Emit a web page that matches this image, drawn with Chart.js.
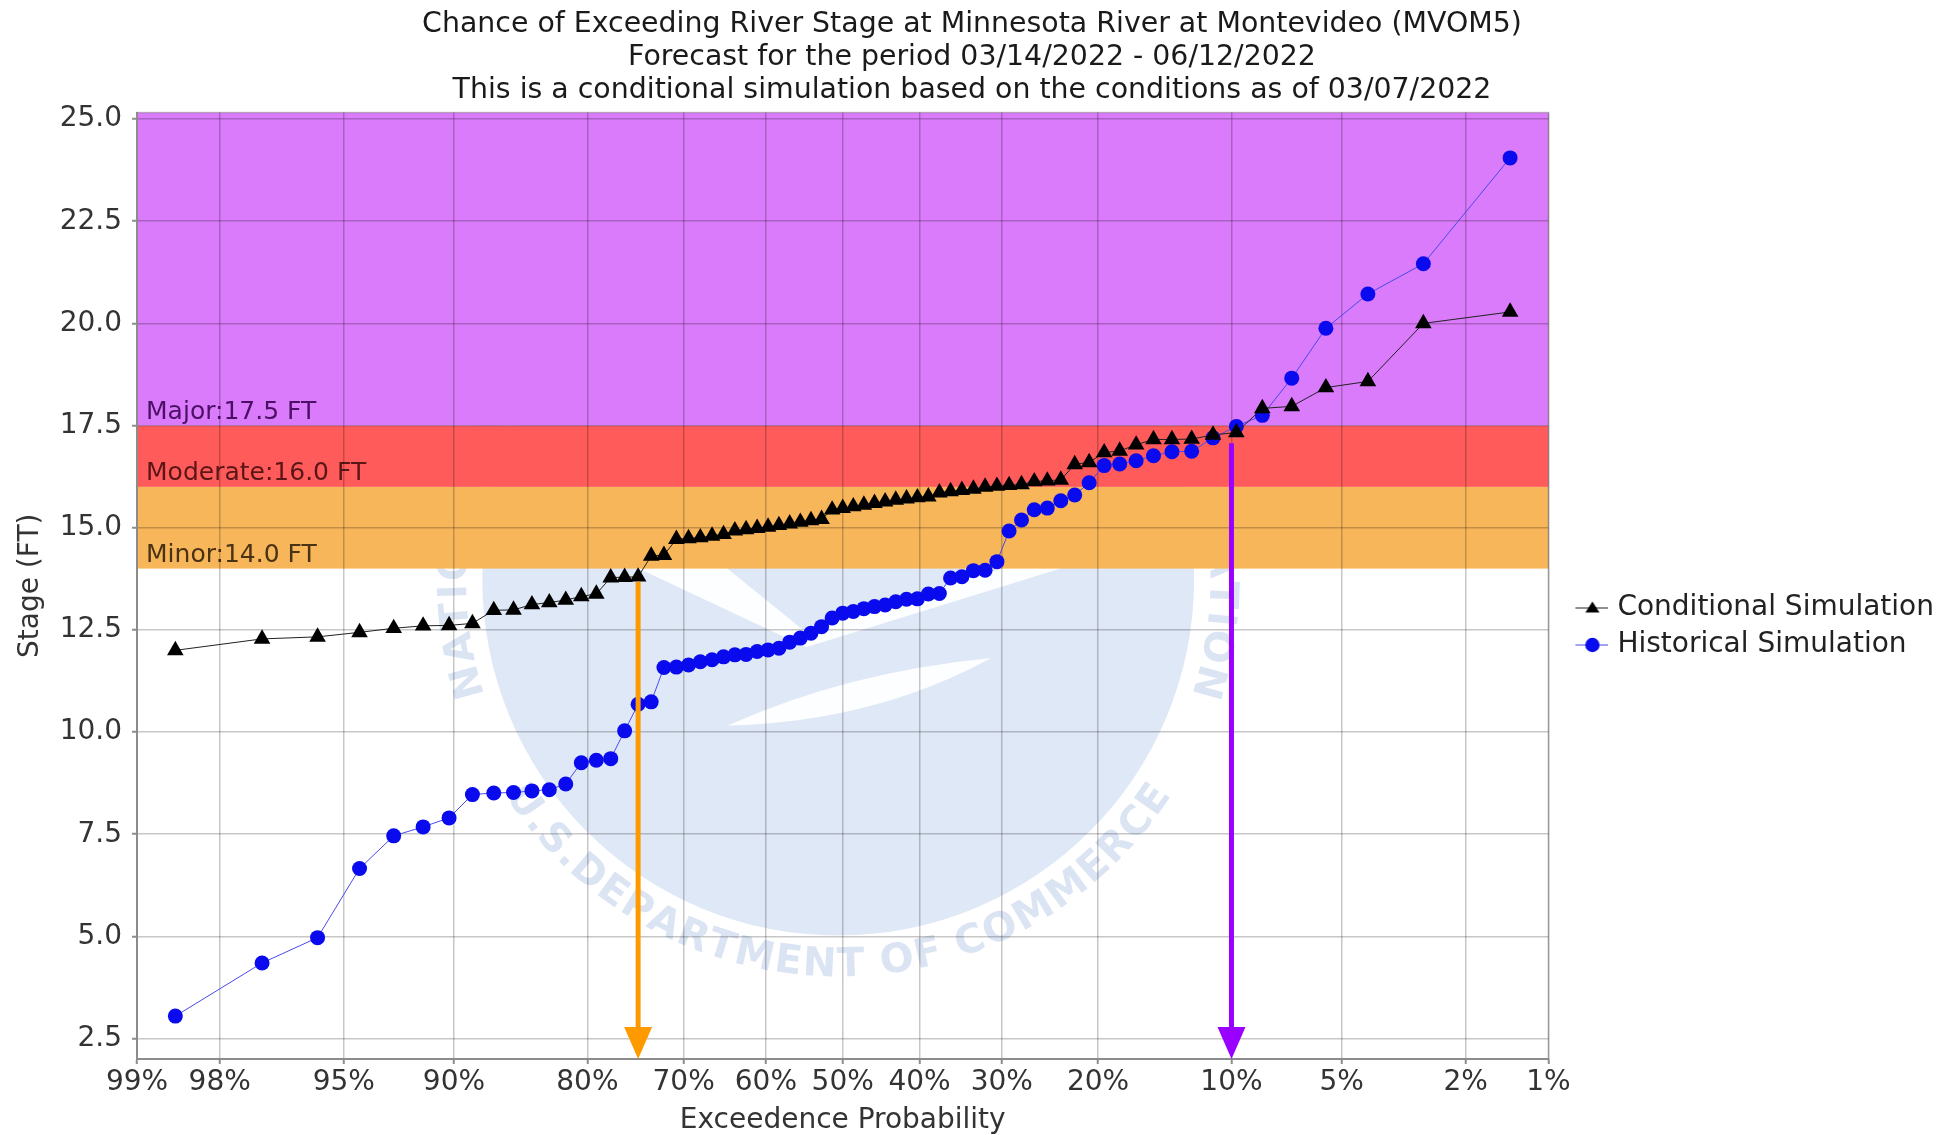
<!DOCTYPE html>
<html>
<head>
<meta charset="utf-8">
<script src="https://cdn.jsdelivr.net/npm/chart.js@4.4.1/dist/chart.umd.min.js"></script>
<style>
  html, body { margin: 0; padding: 0; background: #ffffff; }
  #wrap { width: 1955px; height: 1135px; }
</style>
</head>
<body>
<div id="wrap"><canvas id="chart" width="1955" height="1135"></canvas></div>
<script>
// ---------------- DATA ----------------
const titleLines = [
  'Chance of Exceeding River Stage at Minnesota River at Montevideo (MVOM5)',
  'Forecast for the period 03/14/2022 - 06/12/2022',
  'This is a conditional simulation based on the conditions as of 03/07/2022'
];
const seriesNames = ['Conditional Simulation', 'Historical Simulation'];

// exceedance probability (%) of each plotted point
const exceedancePct = [
  98.61, 97.22, 95.83, 94.44, 93.06, 91.67, 90.28, 88.89, 87.50, 86.11,
  84.72, 83.33, 81.94, 80.56, 79.17, 77.78, 76.39, 75.00, 73.61, 72.22,
  70.83, 69.44, 68.06, 66.67, 65.28, 63.89, 62.50, 61.11, 59.72, 58.33,
  56.94, 55.56, 54.17, 52.78, 51.39, 50.00, 48.61, 47.22, 45.83, 44.44,
  43.06, 41.67, 40.28, 38.89, 37.50, 36.11, 34.72, 33.33, 31.94, 30.56,
  29.17, 27.78, 26.39, 25.00, 23.61, 22.22, 20.83, 19.44, 18.06, 16.67,
  15.28, 13.89, 12.50, 11.11, 9.72, 8.33, 6.94, 5.56, 4.17, 2.78, 1.39
];

// stage (ft) - conditional simulation
const conditionalStage = [
  12.00, 12.28, 12.33, 12.44, 12.54, 12.60, 12.61, 12.66, 12.98, 12.99,
  13.12, 13.17, 13.23, 13.32, 13.38, 13.78, 13.79, 13.80, 14.31, 14.33,
  14.72, 14.74, 14.76, 14.80, 14.84, 14.93, 14.96, 14.99, 15.02, 15.06,
  15.10, 15.14, 15.18, 15.21, 15.44, 15.48, 15.52, 15.56, 15.60, 15.64,
  15.68, 15.71, 15.74, 15.76, 15.86, 15.89, 15.92, 15.95, 16.00, 16.02,
  16.04, 16.06, 16.13, 16.15, 16.17, 16.55, 16.60, 16.84, 16.88, 17.03,
  17.16, 17.16, 17.17, 17.27, 17.33, 17.92, 17.97, 18.43, 18.58, 20.00, 20.28
];

// stage (ft) - historical simulation
const historicalStage = [
  3.05, 4.35, 4.97, 6.66, 7.46, 7.68, 7.90, 8.47, 8.51, 8.52,
  8.56, 8.59, 8.73, 9.25, 9.31, 9.35, 10.03, 10.68, 10.74, 11.58,
  11.59, 11.64, 11.72, 11.77, 11.84, 11.89, 11.90, 11.97, 12.01, 12.05,
  12.20, 12.30, 12.42, 12.58, 12.79, 12.91, 12.95, 13.02, 13.07, 13.11,
  13.19, 13.25, 13.26, 13.38, 13.39, 13.77, 13.80, 13.95, 13.96, 14.17,
  14.92, 15.19, 15.44, 15.48, 15.66, 15.80, 16.10, 16.52, 16.56, 16.64,
  16.76, 16.86, 16.87, 17.20, 17.48, 17.75, 18.66, 19.88, 20.72, 21.46, 24.05
];

const xTickProbs  = [99, 98, 95, 90, 80, 70, 60, 50, 40, 30, 20, 10, 5, 2, 1];
const xTickLabels = ['99%', '98%', '95%', '90%', '80%', '70%', '60%', '50%', '40%', '30%', '20%', '10%', '5%', '2%', '1%'];
const yTickValues = [2.5, 5.0, 7.5, 10.0, 12.5, 15.0, 17.5, 20.0, 22.5, 25.0];

const floodNames  = ['Minor', 'Moderate', 'Major'];
const floodLevels = [14.0, 16.0, 17.5];
const floodColors = ['#f8b65a', '#ff5b5b', '#d97bfa'];
const floodTextColors = ['#4a3214', '#5a1616', '#4b1066'];

const arrowProbs     = [75, 10];
const arrowTopStages = [13.68, 17.07];
const arrowColors    = ['#ff9900', '#9900ff'];

// ---------------- HELPERS ----------------
Chart.defaults.font.family = "'DejaVu Sans', sans-serif";

function normInv(p) {
  const a = [-3.969683028665376e+01, 2.209460984245205e+02, -2.759285104469687e+02, 1.383577518672690e+02, -3.066479806614716e+01, 2.506628277459239e+00];
  const b = [-5.447609879822406e+01, 1.615858368580409e+02, -1.556989798598866e+02, 6.680131188771972e+01, -1.328068155288572e+01];
  const c = [-7.784894002430293e-03, -3.223964580411365e-01, -2.400758277161838e+00, -2.549732539343734e+00, 4.374664141464968e+00, 2.938163982698783e+00];
  const d = [7.784695709041462e-03, 3.224671290700398e-01, 2.445134137142996e+00, 3.754408661907416e+00];
  const pl = 0.02425, ph = 1 - pl;
  let q, r;
  if (p < pl) {
    q = Math.sqrt(-2 * Math.log(p));
    return (((((c[0]*q+c[1])*q+c[2])*q+c[3])*q+c[4])*q+c[5]) / ((((d[0]*q+d[1])*q+d[2])*q+d[3])*q+1);
  }
  if (p <= ph) {
    q = p - 0.5; r = q * q;
    return (((((a[0]*r+a[1])*r+a[2])*r+a[3])*r+a[4])*r+a[5])*q / (((((b[0]*r+b[1])*r+b[2])*r+b[3])*r+b[4])*r+1);
  }
  q = Math.sqrt(-2 * Math.log(1 - p));
  return -(((((c[0]*q+c[1])*q+c[2])*q+c[3])*q+c[4])*q+c[5]) / ((((d[0]*q+d[1])*q+d[2])*q+d[3])*q+1);
}
function normCdf(z) {
  const t = 1 / (1 + 0.2316419 * Math.abs(z));
  const dd = 0.3989422804014327 * Math.exp(-z * z / 2);
  const pr = dd * t * (0.319381530 + t * (-0.356563782 + t * (1.781477937 + t * (-1.821255978 + t * 1.330274429))));
  return z > 0 ? 1 - pr : pr;
}
const zOfExceed = pct => normInv(1 - pct / 100);

// Normal-probability axis (exceedance %, high on the left)
class ProbabilityScale extends Chart.Scale {
  static id = 'probability';
  static defaults = {};
  parse(raw) { return (raw === null || raw === undefined) ? null : +raw; }
  determineDataLimits() { this.min = this.options.min; this.max = this.options.max; }
  buildTicks() { return xTickProbs.map(v => ({ value: v })); }
  getLabelForValue(v) { return v.toFixed(2) + '%'; }
  configure() {
    super.configure();
    this._z0 = zOfExceed(this.min);
    this._z1 = zOfExceed(this.max);
  }
  getPixelForValue(v) {
    if (v === null || v === undefined || isNaN(v)) return NaN;
    return this.getPixelForDecimal((zOfExceed(v) - this._z0) / (this._z1 - this._z0));
  }
  getValueForPixel(px) {
    const z = this._z0 + this.getDecimalForPixel(px) * (this._z1 - this._z0);
    return 100 * (1 - normCdf(z));
  }
}
Chart.register(ProbabilityScale);

function arcText(ctx, text, cx, cy, r, centerAngle, bottom, spacing) {
  const chars = [...text];
  const sp = spacing || 0;
  const widths = chars.map(ch => ctx.measureText(ch).width + sp);
  const total = widths.reduce((s, w) => s + w, 0);
  let a = bottom ? centerAngle + total / r / 2 : centerAngle - total / r / 2;
  chars.forEach((ch, i) => {
    const half = widths[i] / 2 / r;
    a = bottom ? a - half : a + half;
    ctx.save();
    ctx.translate(cx + r * Math.cos(a), cy + r * Math.sin(a));
    ctx.rotate(bottom ? a - Math.PI / 2 : a + Math.PI / 2);
    ctx.fillText(ch, 0, 0);
    ctx.restore();
    a = bottom ? a - half : a + half;
  });
}

function drawWatermark(ctx, area) {
  const cx = area.left + area.width * 0.4968;
  const cy = area.top + area.height * 0.4936;
  const R = area.height * 0.376;
  const P = (u, v) => [cx + u * R, cy + v * R];
  ctx.save();
  ctx.beginPath(); ctx.rect(area.left, area.top, area.width, area.height); ctx.clip();
  ctx.fillStyle = '#dfe8f6';
  ctx.beginPath(); ctx.arc(cx, cy, R, 0, Math.PI * 2); ctx.fill();
  // gull
  ctx.save();
  ctx.beginPath(); ctx.arc(cx, cy, R, 0, Math.PI * 2); ctx.clip();
  ctx.fillStyle = 'rgba(255,255,255,0.92)';
  const gull = [[-0.92, -0.20], [-0.52, -0.20], [-0.10, 0.14], [0.75, -0.12], [0.75, -0.07], [-0.09, 0.19]];
  ctx.beginPath();
  gull.forEach((pt, i) => { const [x, y] = P(pt[0], pt[1]); if (i) ctx.lineTo(x, y); else ctx.moveTo(x, y); });
  ctx.closePath(); ctx.fill();
  ctx.beginPath();
  let p = P(-0.31, 0.41); ctx.moveTo(p[0], p[1]);
  let q1 = P(0.02, 0.26), e = P(0.43, 0.22); ctx.quadraticCurveTo(q1[0], q1[1], e[0], e[1]);
  let q2 = P(0.10, 0.40); ctx.quadraticCurveTo(q2[0], q2[1], p[0], p[1]);
  ctx.fill();
  ctx.restore();
  // ring text
  ctx.fillStyle = 'rgba(175,195,228,0.45)';
  ctx.font = "bold 40px 'DejaVu Sans'";
  ctx.textAlign = 'center'; ctx.textBaseline = 'middle';
  arcText(ctx, 'U.S.DEPARTMENT OF COMMERCE', cx, cy, R * 1.085, Math.PI / 2, true, 1);
  arcText(ctx, 'NATIONAL OCEANIC AND ATMOSPHERIC ADMINISTRATION', cx, cy, R * 1.075, Math.PI * 1.5, false, 3);
  ctx.restore();
}

const backgroundPlugin = {
  id: 'floodBackground',
  beforeDraw(chart) {
    const { ctx, chartArea: a, scales: { y } } = chart;
    drawWatermark(ctx, a);
    ctx.save();
    for (let i = 0; i < floodLevels.length; i++) {
      const y0 = y.getPixelForValue(floodLevels[i]);
      const y1 = i + 1 < floodLevels.length ? y.getPixelForValue(floodLevels[i + 1]) : a.top;
      ctx.fillStyle = floodColors[i];
      ctx.fillRect(a.left, y1, a.width, y0 - y1);
    }
    ctx.font = "25px 'DejaVu Sans'";
    ctx.textAlign = 'left'; ctx.textBaseline = 'alphabetic';
    for (let i = 0; i < floodLevels.length; i++) {
      ctx.fillStyle = floodTextColors[i];
      ctx.fillText(floodNames[i] + ':' + floodLevels[i].toFixed(1) + ' FT', a.left + 9, y.getPixelForValue(floodLevels[i]) - 7);
    }
    ctx.strokeStyle = 'rgba(120,120,120,0.45)';
    ctx.lineWidth = 1.5;
    ctx.strokeRect(a.left, a.top, a.width, a.height);
    ctx.restore();
  }
};

const arrowPlugin = {
  id: 'arrows',
  afterDatasetsDraw(chart) {
    const { ctx, chartArea: a, scales: { x, y } } = chart;
    ctx.save();
    for (let i = 0; i < arrowProbs.length; i++) {
      const px = x.getPixelForValue(arrowProbs[i]);
      const top = y.getPixelForValue(arrowTopStages[i]);
      const bot = a.bottom;
      const headH = 32, headW = 14;
      ctx.strokeStyle = arrowColors[i];
      ctx.fillStyle = arrowColors[i];
      ctx.lineWidth = 5;
      ctx.beginPath(); ctx.moveTo(px, top); ctx.lineTo(px, bot - headH + 2); ctx.stroke();
      ctx.beginPath();
      ctx.moveTo(px - headW, bot - headH); ctx.lineTo(px + headW, bot - headH); ctx.lineTo(px, bot);
      ctx.closePath(); ctx.fill();
    }
    ctx.restore();
  }
};

// legend symbol: short line with the series marker
function legendIcon(kind) {
  const cv = document.createElement('canvas');
  cv.width = 56; cv.height = 20;
  const c = cv.getContext('2d');
  c.lineWidth = 1.2;
  if (kind === 0) {
    c.strokeStyle = '#222';
    c.beginPath(); c.moveTo(23, 10); c.lineTo(56, 10); c.stroke();
    c.fillStyle = '#000';
    c.beginPath(); c.moveTo(40, 3.5); c.lineTo(47, 14.5); c.lineTo(33, 14.5); c.closePath(); c.fill();
  } else {
    c.strokeStyle = '#4a4aee';
    c.beginPath(); c.moveTo(23, 10); c.lineTo(56, 10); c.stroke();
    c.fillStyle = '#0a0aee';
    c.beginPath(); c.arc(40, 10, 7.2, 0, Math.PI * 2); c.fill();
  }
  return cv;
}
const legendIcons = [legendIcon(0), legendIcon(1)];

const gridOpts = {
  color: 'rgba(0,0,0,0.22)', lineWidth: 1.5,
  drawTicks: true, tickLength: 5, tickColor: '#8c8c8c', tickWidth: 2
};
const borderOpts = { display: true, color: '#8c8c8c', width: 2 };

new Chart(document.getElementById('chart'), {
  type: 'line',
  data: {
    datasets: [
      {
        label: seriesNames[0],
        data: exceedancePct.map((p, i) => ({ x: p, y: conditionalStage[i] })),
        borderColor: '#222222', borderWidth: 1,
        pointStyle: 'triangle', pointRadius: 9.6, pointHoverRadius: 9.6,
        pointBackgroundColor: '#000000', pointBorderColor: '#000000', pointBorderWidth: 0,
        tension: 0, fill: false
      },
      {
        label: seriesNames[1],
        data: exceedancePct.map((p, i) => ({ x: p, y: historicalStage[i] })),
        borderColor: '#4a4aee', borderWidth: 1,
        pointStyle: 'circle', pointRadius: 7.5, pointHoverRadius: 7.5,
        pointBackgroundColor: '#0a0aee', pointBorderColor: '#0a0aee', pointBorderWidth: 0,
        tension: 0, fill: false
      }
    ]
  },
  options: {
    responsive: false,
    animation: false,
    layout: { padding: { left: 0, right: 11, top: 0, bottom: 0 } },
    plugins: {
      title: {
        display: true, text: titleLines, color: '#1a1a1a',
        font: { size: 28.4, weight: 'normal', lineHeight: 1.16 },
        padding: { top: 8, bottom: 5.7 }
      },
      legend: {
        position: 'right', align: 'center',
        title: { display: true, text: '', font: { size: 1, lineHeight: 1 }, padding: { top: 117, bottom: 0 } },
        labels: {
          usePointStyle: true, pointStyleWidth: 46, padding: 9, color: '#222',
          font: { size: 28 },
          generateLabels(chart) {
            const items = Chart.defaults.plugins.legend.labels.generateLabels(chart);
            items.forEach((it, i) => { it.pointStyle = legendIcons[i]; it.fontColor = '#222'; });
            return items;
          }
        }
      },
      tooltip: { enabled: false }
    },
    scales: {
      x: {
        type: 'probability', position: 'bottom', min: 99, max: 1,
        ticks: { callback: (v, i) => xTickLabels[i], color: '#333', font: { size: 28 }, padding: 2, autoSkip: false, maxRotation: 0, minRotation: 0 },
        grid: gridOpts, border: borderOpts,
        title: { display: true, text: 'Exceedence Probability', color: '#333', font: { size: 28, lineHeight: 1 }, padding: { top: 5.4, bottom: 0 } }
      },
      y: {
        type: 'linear', position: 'left', min: 2.0, max: 25.16,
        afterBuildTicks: s => { s.ticks = yTickValues.map(v => ({ value: v })); },
        ticks: { callback: v => Number(v).toFixed(1), color: '#333', font: { size: 28 }, padding: 10, autoSkip: false },
        grid: gridOpts, border: borderOpts,
        title: { display: true, text: 'Stage (FT)', color: '#333', font: { size: 28, lineHeight: 1 }, padding: { top: 17, bottom: 4.7 } }
      }
    }
  },
  plugins: [backgroundPlugin, arrowPlugin]
});
</script>
</body>
</html>
